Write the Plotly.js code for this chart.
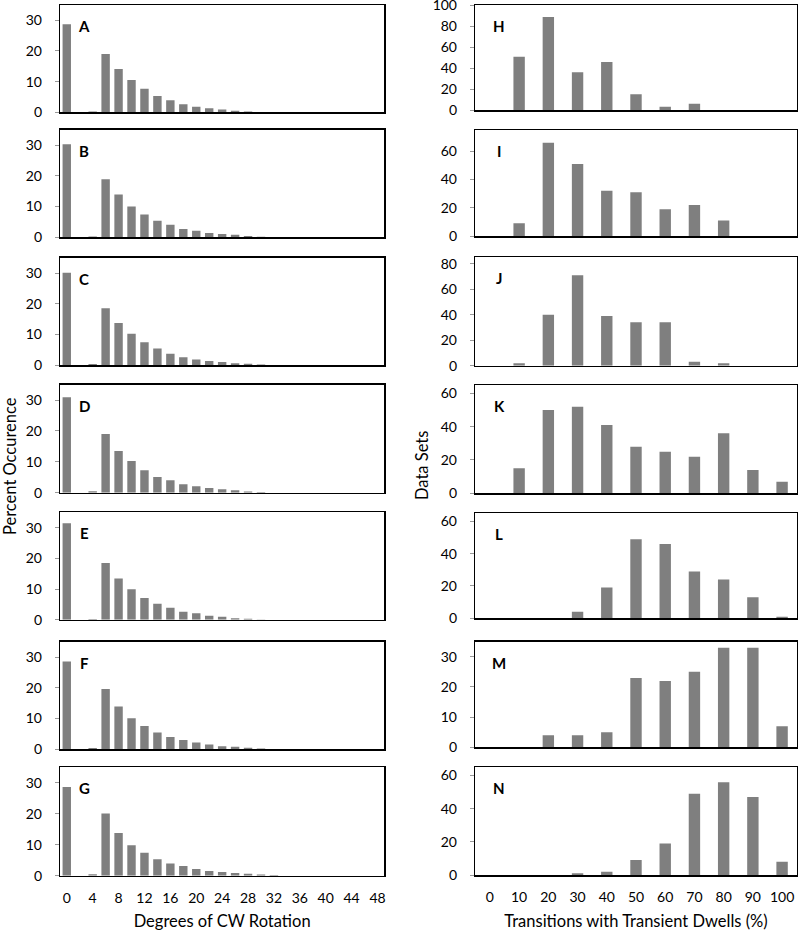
<!DOCTYPE html>
<html>
<head>
<meta charset="utf-8">
<script src="https://cdn.plot.ly/plotly-3.0.1.min.js"></script>
<style>html,body{margin:0;padding:0;background:#fff;}#chart{width:800px;height:931px;}</style>
</head>
<body>
<div id="chart"></div>
<script>
// Left column: degrees of CW rotation (0..48 step 2)
const degrees = [0,2,4,6,8,10,12,14,16,18,20,22,24,26,28,30,32,34,36,38,40,42,44,46,48];
const panelA = [28.7,0,0.3,19.0,14.1,10.5,7.7,5.3,3.9,2.6,1.8,1.3,0.9,0.5,0.3,0.1,0,0,0,0,0,0,0,0,0];
const panelB = [30.3,0,0.3,18.9,13.9,10.0,7.4,5.4,4.1,2.7,2.1,1.4,1.1,0.8,0.4,0.2,0,0,0,0,0,0,0,0,0];
const panelC = [30.1,0,0.3,18.5,13.7,10.2,7.4,5.4,3.7,2.5,1.8,1.3,1.0,0.6,0.4,0.2,0,0,0,0,0,0,0,0,0];
const panelD = [30.9,0,0.5,19.0,13.5,10.3,7.3,5.1,4.0,2.7,2.1,1.5,1.1,0.8,0.4,0.2,0,0,0,0,0,0,0,0,0];
const panelE = [31.4,0,0.2,18.5,13.4,9.9,7.1,5.2,3.9,2.6,2.1,1.3,1.0,0.5,0.3,0.1,0,0,0,0,0,0,0,0,0];
const panelF = [28.6,0,0.4,19.6,13.9,10.1,7.6,5.5,4.0,3.0,2.2,1.6,1.0,0.8,0.5,0.3,0,0,0,0,0,0,0,0,0];
const panelG = [28.6,0,0.5,20.1,13.8,9.8,7.4,5.3,3.9,3.1,2.2,1.5,1.2,0.9,0.6,0.4,0.2,0,0,0,0,0,0,0,0];
const degreeTicks = [0,4,8,12,16,20,24,28,32,36,40,44,48];

// Right column: transitions with transient dwells (%)
const transitions = [0,10,20,30,40,50,60,70,80,90,100];
const panelH = [0,51,89,36,46,15,3,6,0,0,0];
const panelI = [0,9,66,51,32,31,19,22,11,0,0];
const panelJ = [0,2,40,71,39,34,34,3,2,0,0];
const panelK = [0,15,50,52,41,28,25,22,36,14,7];
const panelL = [0,0,0,4,19,49,46,29,24,13,1];
const panelM = [0,0,4,4,5,23,22,25,33,33,7];
const panelN = [0,0,0,1,2,9,19,49,56,47,8];

const leftLabels = ['A','B','C','D','E','F','G'];
const rightLabels = ['H','I','J','K','L','M','N'];
const leftSeries = [panelA,panelB,panelC,panelD,panelE,panelF,panelG];
const rightSeries = [panelH,panelI,panelJ,panelK,panelL,panelM,panelN];
const rightYMax = [100.4,75,85,65,65,35,65];
const rightDtick = [20,20,20,20,20,10,20];

const W = 800, H = 931;
const leftPx = [[5,112.3],[129.7,237.3],[257.7,365],[384.7,492.7],[512.3,619.7],[641.7,749.3],[767.3,875.7]];
const rightPx = [[5,110],[130,236],[257.3,365.7],[385,493.3],[513.3,618.3],[641.7,747.3],[767.3,875]];
const leftX = [60.3/W, 384/W];
const rightX = [475.3/W, 796.7/W];

const FONT = 'Lato, "Open Sans", sans-serif';
const barColor = '#7f7f7f';
const traces = [];
const layout = {
  width: W, height: H,
  margin: {l:0,r:0,t:0,b:0},
  paper_bgcolor: '#fff', plot_bgcolor: '#fff',
  showlegend: false,
  font: {family: FONT, size: 14, color: '#000'},
  annotations: []
};

function axisBase() {
  return {showline: true, mirror: true, linecolor: '#000', linewidth: 1.5, showgrid: false, zeroline: false, fixedrange: true};
}

let n = 0;
function addPanel(xs, ys, label, px, xdom, xRange, width, yMax, dtick, isBottom, xTicks, xTitle) {
  n++;
  const xa = n === 1 ? 'xaxis' : 'xaxis' + n;
  const ya = n === 1 ? 'yaxis' : 'yaxis' + n;
  const xr = n === 1 ? 'x' : 'x' + n;
  const yr = n === 1 ? 'y' : 'y' + n;
  traces.push({type: 'bar', x: xs, y: ys, xaxis: xr, yaxis: yr, width: width,
    marker: {color: barColor, line: {width: 0}}, hoverinfo: 'skip'});
  const ydom = [1 - px[1] / H, 1 - px[0] / H];
  layout[xa] = Object.assign(axisBase(), {
    domain: xdom, anchor: yr, range: xRange,
    showticklabels: isBottom, tickmode: 'array', tickvals: xTicks, ticks: '',
    tickfont: {size: 14, family: FONT, color: '#000'}, ticklabelstandoff: 9
  });
  if (isBottom) layout[xa].title = {text: xTitle, font: {size: 16.5, family: FONT, color: '#000'}, standoff: 11};
  layout[ya] = Object.assign(axisBase(), {
    domain: ydom, anchor: xr, range: [0, yMax], dtick: dtick, tick0: 0,
    ticks: 'outside', ticklen: 4, tickcolor: '#999', tickwidth: 1,
    tickfont: {size: 14, family: FONT, color: '#000'}, ticklabelstandoff: 10,
    ticklabeloverflow: 'allow'
  });
  layout.annotations.push({
    text: '<b>' + label + '</b>', xref: 'paper', yref: 'paper',
    x: (xdom[0] * W + 24) / W, y: 1 - (px[0] + 21) / H,
    xanchor: 'center', yanchor: 'middle', showarrow: false,
    font: {size: 15, family: FONT, color: '#000'}
  });
}

for (let i = 0; i < 7; i++) {
  addPanel(degrees, leftSeries[i], leftLabels[i], leftPx[i], leftX, [-1, 49], 1.3, 35, 10, i === 6, degreeTicks, 'Degrees of CW Rotation');
}
for (let i = 0; i < 7; i++) {
  addPanel(transitions, rightSeries[i], rightLabels[i], rightPx[i], rightX, [-5, 105], 3.9, rightYMax[i], rightDtick[i], i === 6, transitions, 'Transitions with Transient Dwells (%)');
}

layout.annotations.push({
  text: 'Percent Occurence', xref: 'paper', yref: 'paper', x: 10 / W, y: 1 - 466 / H,
  textangle: -90, showarrow: false, xanchor: 'center', yanchor: 'middle',
  font: {size: 16.5, family: FONT, color: '#000'}
});
layout.annotations.push({
  text: 'Data Sets', xref: 'paper', yref: 'paper', x: 422 / W, y: 1 - 466 / H,
  textangle: -90, showarrow: false, xanchor: 'center', yanchor: 'middle',
  font: {size: 16.5, family: FONT, color: '#000'}
});

Plotly.newPlot('chart', traces, layout, {displayModeBar: false, staticPlot: true});
</script>
</body>
</html>
